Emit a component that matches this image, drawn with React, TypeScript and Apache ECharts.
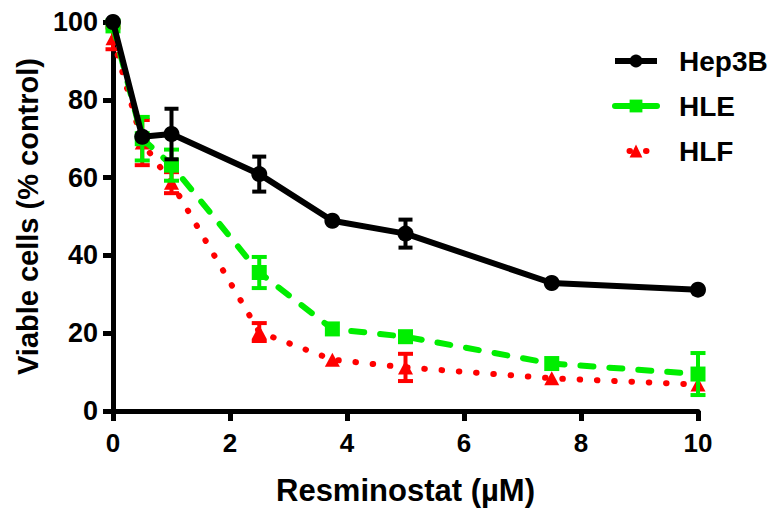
import React, { useEffect, useRef } from "react";
import * as echarts from "echarts";

const doses = [0, 0.5, 1, 2.5, 3.75, 5, 7.5, 10];
const hep3bMean = [100, 70.5, 71.2, 60.9, 48.9, 45.6, 32.9, 31.2];
const hep3bErr = [0, 0, 6.5, 4.5, 0, 3.6, 0, 0];
const hleMean = [99, 70, 63.2, 35.6, 21.1, 19.1, 12.2, 9.5];
const hleErr = [0, 5.6, 4, 4, 0, 0, 0, 5.4];
const hlfMean = [95.8, 69, 58.7, 20.3, 13.2, 11.2, 8.4, 6.8];
const hlfErr = [2.8, 5.8, 2.7, 2.3, 0, 3.5, 0, 0];
const seriesNames = ["Hep3B", "HLE", "HLF"];

const FONT = "'Liberation Sans', Arial, Helvetica, sans-serif";
const BLACK = "#000000";
const GREEN = "#00ee00";
const RED = "#ff0000";

function errorSeries(name: string, mean: number[], err: number[], color: string, capW: number, z: number) {
  const data = doses
    .map((d, i) => [d, mean[i] - err[i], mean[i] + err[i], err[i]])
    .filter((r) => r[3] > 0);
  return {
    type: "custom",
    name,
    z,
    silent: true,
    clip: false,
    data,
    encode: { x: 0, y: [1, 2] },
    renderItem: (params: any, api: any) => {
      const x = api.value(0);
      const lo = api.coord([x, api.value(1)]);
      const hi = api.coord([x, api.value(2)]);
      const style = { stroke: color, lineWidth: 4 };
      return {
        type: "group",
        children: [
          { type: "line", shape: { x1: lo[0], y1: lo[1], x2: hi[0], y2: hi[1] }, style },
          { type: "line", shape: { x1: lo[0] - capW / 2, y1: lo[1], x2: lo[0] + capW / 2, y2: lo[1] }, style },
          { type: "line", shape: { x1: hi[0] - capW / 2, y1: hi[1], x2: hi[0] + capW / 2, y2: hi[1] }, style },
        ],
      };
    },
  };
}

export default function App() {
  const ref = useRef<HTMLDivElement>(null);
  useEffect(() => {
    if (!ref.current) return;
    const chart = echarts.init(ref.current, null, { renderer: "svg" });
    const axisLabelStyle = { fontSize: 26, fontWeight: "bold", color: BLACK, fontFamily: FONT };
    const hlfLine = { color: RED, width: 6, type: [0.5, 16.8], cap: "round" };
    const hleLine = { color: GREEN, width: 6, type: [13, 16], cap: "round" };
    const hepLine = { color: BLACK, width: 6 };
    chart.setOption({
      animation: false,
      backgroundColor: "#ffffff",
      grid: { left: 113, right: 76, top: 22, bottom: 103 },
      legend: {
        data: [
          { name: seriesNames[0], lineStyle: { width: 6 } },
          { name: seriesNames[1], lineStyle: { width: 6, type: "solid" } },
          { name: seriesNames[2], lineStyle: { width: 6, type: [0.5, 16], cap: "round", dashOffset: 2 } },
        ],
        orient: "vertical",
        left: 607,
        top: 41,
        itemWidth: 42,
        itemHeight: 16,
        itemGap: 15,
        selectedMode: false,
        textStyle: { fontSize: 28, fontWeight: "bold", color: BLACK, fontFamily: FONT, padding: [0, 0, 0, 17], lineHeight: 30 },
      },
      xAxis: {
        type: "value",
        min: 0,
        max: 10,
        interval: 2,
        name: "Resminostat (µM)",
        nameLocation: "middle",
        nameGap: 64,
        nameTextStyle: { fontSize: 31, fontWeight: "bold", color: BLACK, fontFamily: FONT },
        axisLine: { show: true, onZero: false, lineStyle: { color: BLACK, width: 5 } },
        axisTick: { show: true, length: 10, lineStyle: { color: BLACK, width: 5 } },
        axisLabel: { ...axisLabelStyle, margin: 19 },
        splitLine: { show: false },
      },
      yAxis: {
        type: "value",
        min: 0,
        max: 100,
        interval: 20,
        name: "Viable cells (% control)",
        nameLocation: "middle",
        nameGap: 71,
        nameTextStyle: { fontSize: 29, fontWeight: "bold", color: BLACK, fontFamily: FONT },
        axisLine: { show: true, onZero: false, lineStyle: { color: BLACK, width: 5 } },
        axisTick: { show: true, length: 10, lineStyle: { color: BLACK, width: 5 } },
        axisLabel: { ...axisLabelStyle, fontSize: 27, margin: 15 },
        splitLine: { show: false },
      },
      series: [
        errorSeries("HLF-err", hlfMean, hlfErr, RED, 15, 2),
        {
          type: "line",
          name: "HLF",
          z: 2,
          clip: false,
          data: doses.map((d, i) => [d, hlfMean[i]]),
          symbol: "triangle",
          symbolSize: [15, 14],
          showAllSymbol: true,
          itemStyle: { color: RED },
          lineStyle: hlfLine,
        },
        errorSeries("HLE-err", hleMean, hleErr, GREEN, 15, 3),
        {
          type: "line",
          name: "HLE",
          z: 3,
          clip: false,
          data: doses.map((d, i) => [d, hleMean[i]]),
          symbol: "rect",
          symbolSize: 15,
          showAllSymbol: true,
          itemStyle: { color: GREEN },
          lineStyle: hleLine,
        },
        errorSeries("Hep3B-err", hep3bMean, hep3bErr, BLACK, 14, 4),
        {
          type: "line",
          name: "Hep3B",
          z: 4,
          clip: false,
          data: doses.map((d, i) => [d, hep3bMean[i]]),
          symbol: "circle",
          symbolSize: 16,
          showAllSymbol: true,
          itemStyle: { color: BLACK },
          lineStyle: hepLine,
        },
      ],
    });
    return () => chart.dispose();
  }, []);
  return (
    <div
      ref={ref}
      style={{ position: "fixed", left: 0, top: 0, width: 774, height: 514, background: "#fff" }}
    />
  );
}
